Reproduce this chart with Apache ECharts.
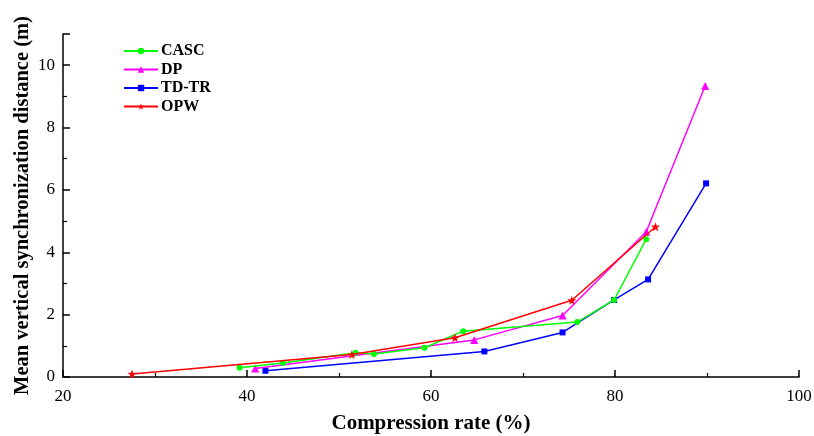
<!DOCTYPE html>
<html><head><meta charset="utf-8">
<script src="https://cdn.jsdelivr.net/npm/echarts@6/dist/echarts.min.js"></script>
<style>html,body{margin:0;padding:0;background:#fff}#c{width:814px;height:436px}</style>
</head><body><div id="c"></div>
<script>
var seriesNames = ['CASC', 'DP', 'TD-TR', 'OPW'];
var cascX = [39.2, 43.9, 51.8, 53.8, 59.3, 63.5, 75.9, 79.9, 83.4];
var cascY = [0.30, 0.45, 0.78, 0.74, 0.94, 1.47, 1.76, 2.47, 4.42];
var dpX = [40.9, 64.7, 74.3, 83.4, 89.8];
var dpY = [0.27, 1.19, 1.97, 4.66, 9.33];
var tdX = [42.0, 65.8, 74.3, 79.9, 83.6, 89.9];
var tdY = [0.20, 0.82, 1.43, 2.47, 3.13, 6.21];
var opwX = [27.5, 51.4, 62.6, 75.3, 84.4];
var opwY = [0.10, 0.72, 1.26, 2.46, 4.82];
var colors = ['#00ff00', '#ff00ff', '#0000ff', '#ff0000'];
var symbols = ['circle', 'triangle', 'rect', 'path://M0,-10 L2.35,-3.24 L9.51,-3.09 L3.8,1.24 L5.88,8.09 L0,4 L-5.88,8.09 L-3.8,1.24 L-9.51,-3.09 L-2.35,-3.24 Z'];
function zip(a, b) { return a.map(function (v, i) { return [v, b[i]]; }); }
var dataSets = [zip(cascX, cascY), zip(dpX, dpY), zip(tdX, tdY), zip(opwX, opwY)];
var font = 'Liberation Serif, Times New Roman, serif';
var chart = echarts.init(document.getElementById('c'), null, {renderer: 'canvas'});
chart.setOption({
  animation: false,
  backgroundColor: '#fff',
  grid: {left: 63, right: 15, top: 34, bottom: 59, containLabel: false, outerBoundsMode: 'none'},
  legend: {
    orient: 'vertical', left: 118, top: 38, itemWidth: 34, itemHeight: 8, itemGap: 2.5,
    textStyle: {fontFamily: font, fontWeight: 'bold', fontSize: 16, color: '#000', padding: [0, 0, 0, -2]},
    data: seriesNames
  },
  xAxis: {
    type: 'value', min: 20, max: 100, interval: 20,
    name: 'Compression rate (%)', nameLocation: 'middle', nameGap: 36,
    nameTextStyle: {fontFamily: font, fontWeight: 'bold', fontSize: 21, color: '#000'},
    axisLine: {lineStyle: {color: '#000', width: 1.5}},
    axisTick: {inside: true, length: 7, lineStyle: {color: '#000', width: 1.5}},
    minorTick: {show: true, splitNumber: 2, length: 4, lineStyle: {color: '#000', width: 1.2}},
    axisLabel: {fontFamily: font, fontSize: 17, color: '#000', margin: 11},
    splitLine: {show: false}
  },
  yAxis: {
    type: 'value', min: 0, max: 11, interval: 2,
    name: 'Mean vertical synchronization distance (m)', nameLocation: 'middle', nameGap: 30,
    nameMoveOverlap: false,
    nameTextStyle: {fontFamily: font, fontWeight: 'bold', fontSize: 20.5, color: '#000'},
    axisLine: {lineStyle: {color: '#000', width: 1.5}},
    axisTick: {inside: true, length: 7, lineStyle: {color: '#000', width: 1.5}},
    minorTick: {show: true, splitNumber: 2, length: 4, lineStyle: {color: '#000', width: 1.2}},
    axisLabel: {fontFamily: font, fontSize: 17, color: '#000', margin: 8,
      formatter: function (v) { return v > 10 ? '' : v; }},
    splitLine: {show: false}
  },
  series: seriesNames.map(function (n, i) {
    return {
      name: n, type: 'line', data: dataSets[i],
      symbol: symbols[i], symbolSize: i === 3 ? 9 : (i === 1 ? 8 : 6),
      showAllSymbol: true,
      lineStyle: {color: colors[i], width: 1.5},
      itemStyle: {color: colors[i]},
      z: [3, 2, 1, 4][i]
    };
  })
});
</script>
</body></html>
